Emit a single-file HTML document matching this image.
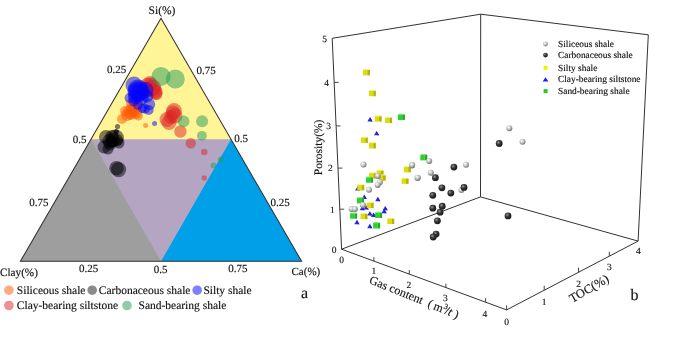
<!DOCTYPE html>
<html><head><meta charset="utf-8"><style>
html,body{margin:0;padding:0;background:#fff;}
svg{display:block;font-family:"Liberation Serif", serif;}
text{fill:#111;stroke:#111;stroke-width:0.15px;}
svg{will-change:transform;}
text{text-rendering:geometricPrecision;}
</style></head><body>
<svg width="685" height="339" viewBox="0 0 685 339">
<defs>
<radialGradient id="gl" cx="0.38" cy="0.35" r="0.7"><stop offset="0" stop-color="#ffffff"/><stop offset="0.45" stop-color="#c8c8c8"/><stop offset="1" stop-color="#6a6a6a"/></radialGradient>
<radialGradient id="gd" cx="0.38" cy="0.35" r="0.7"><stop offset="0" stop-color="#9a9a9a"/><stop offset="0.4" stop-color="#3a3a3a"/><stop offset="1" stop-color="#111111"/></radialGradient>
</defs>
<polygon points="161,18.3 20.4,261.3 301.6,261.3" fill="#B4A6C3"/>
<polygon points="161,18.3 90.96037037037038,139.35 231.03962962962964,139.35" fill="#FFF496"/>
<polygon points="90.96037037037038,139.35 20.4,261.3 161.0,261.3" fill="#9E9E9E"/>
<polygon points="231.03962962962964,139.35 161.0,261.3 301.6,261.3" fill="#00A0E9"/>
<circle cx="131" cy="103" r="5" fill="#FF5500" fill-opacity="0.5"/>
<circle cx="134" cy="110" r="6.5" fill="#FF5500" fill-opacity="0.5"/>
<circle cx="131" cy="114" r="6" fill="#FF5500" fill-opacity="0.5"/>
<circle cx="136" cy="107" r="5" fill="#FF5500" fill-opacity="0.5"/>
<circle cx="137" cy="104" r="6" fill="#FF5500" fill-opacity="0.5"/>
<circle cx="133" cy="108" r="7" fill="#FF5500" fill-opacity="0.5"/>
<circle cx="130" cy="112" r="7" fill="#FF5500" fill-opacity="0.5"/>
<circle cx="136" cy="113" r="6" fill="#FF5500" fill-opacity="0.5"/>
<circle cx="127" cy="115" r="6" fill="#FF5500" fill-opacity="0.5"/>
<circle cx="122" cy="119" r="5" fill="#FF5500" fill-opacity="0.5"/>
<circle cx="138.4" cy="116" r="4.5" fill="#FF5500" fill-opacity="0.5"/>
<circle cx="125" cy="111" r="5" fill="#FF5500" fill-opacity="0.5"/>
<circle cx="145.6" cy="125.5" r="2.5" fill="#FF5500" fill-opacity="0.5"/>
<circle cx="148" cy="85.5" r="8" fill="#DD2222" fill-opacity="0.5"/>
<circle cx="152" cy="88" r="8" fill="#DD2222" fill-opacity="0.5"/>
<circle cx="155" cy="91" r="7" fill="#DD2222" fill-opacity="0.5"/>
<circle cx="150" cy="83" r="7" fill="#DD2222" fill-opacity="0.5"/>
<circle cx="173" cy="113" r="7.5" fill="#DD2222" fill-opacity="0.5"/>
<circle cx="171" cy="117" r="7" fill="#DD2222" fill-opacity="0.5"/>
<circle cx="153.2" cy="87.6" r="8" fill="#DD2222" fill-opacity="0.5"/>
<circle cx="155.3" cy="92.2" r="7.5" fill="#DD2222" fill-opacity="0.5"/>
<circle cx="156.3" cy="94.3" r="6" fill="#DD2222" fill-opacity="0.5"/>
<circle cx="151" cy="84" r="6.5" fill="#DD2222" fill-opacity="0.5"/>
<circle cx="174" cy="110.8" r="7.8" fill="#DD2222" fill-opacity="0.5"/>
<circle cx="174.8" cy="115.7" r="7.7" fill="#DD2222" fill-opacity="0.5"/>
<circle cx="167" cy="119.5" r="7.5" fill="#DD2222" fill-opacity="0.5"/>
<circle cx="169" cy="122.5" r="7.5" fill="#DD2222" fill-opacity="0.5"/>
<circle cx="180.4" cy="131.5" r="6.2" fill="#DD2222" fill-opacity="0.5"/>
<circle cx="190.8" cy="143.3" r="5.2" fill="#DD2222" fill-opacity="0.5"/>
<circle cx="204.2" cy="152" r="3.3" fill="#DD2222" fill-opacity="0.5"/>
<circle cx="204.2" cy="177.9" r="2.7" fill="#DD2222" fill-opacity="0.5"/>
<circle cx="134" cy="85" r="8.5" fill="#0000FF" fill-opacity="0.5"/>
<circle cx="145.5" cy="90" r="8" fill="#0000FF" fill-opacity="0.5"/>
<circle cx="147" cy="96" r="6.5" fill="#0000FF" fill-opacity="0.5"/>
<circle cx="138" cy="90" r="10.5" fill="#0000FF" fill-opacity="0.5"/>
<circle cx="139" cy="91" r="10" fill="#0000FF" fill-opacity="0.5"/>
<circle cx="137.5" cy="92" r="10" fill="#0000FF" fill-opacity="0.5"/>
<circle cx="140" cy="93" r="9" fill="#0000FF" fill-opacity="0.5"/>
<circle cx="135" cy="97" r="7" fill="#0000FF" fill-opacity="0.5"/>
<circle cx="141" cy="97" r="8" fill="#0000FF" fill-opacity="0.5"/>
<circle cx="149.2" cy="104.3" r="6" fill="#0000FF" fill-opacity="0.5"/>
<circle cx="144.8" cy="108.8" r="5" fill="#0000FF" fill-opacity="0.5"/>
<circle cx="148.7" cy="110" r="5" fill="#0000FF" fill-opacity="0.5"/>
<circle cx="129.5" cy="98" r="5" fill="#0000FF" fill-opacity="0.5"/>
<circle cx="133.5" cy="101.5" r="5" fill="#0000FF" fill-opacity="0.5"/>
<circle cx="138" cy="105" r="5" fill="#0000FF" fill-opacity="0.5"/>
<circle cx="142.5" cy="108.5" r="4.5" fill="#0000FF" fill-opacity="0.5"/>
<circle cx="154.6" cy="123.6" r="2.5" fill="#0000FF" fill-opacity="0.5"/>
<circle cx="116.3" cy="131.8" r="2.5" fill="#0000FF" fill-opacity="0.5"/>
<circle cx="106" cy="137" r="7" fill="#000000" fill-opacity="0.5"/>
<circle cx="112" cy="137" r="7" fill="#000000" fill-opacity="0.5"/>
<circle cx="110" cy="144" r="6.5" fill="#000000" fill-opacity="0.5"/>
<circle cx="117" cy="140" r="6" fill="#000000" fill-opacity="0.5"/>
<circle cx="115.5" cy="138" r="8.5" fill="#000000" fill-opacity="0.5"/>
<circle cx="110" cy="141" r="7.5" fill="#000000" fill-opacity="0.5"/>
<circle cx="113" cy="140" r="7" fill="#000000" fill-opacity="0.5"/>
<circle cx="112" cy="142" r="6" fill="#000000" fill-opacity="0.5"/>
<circle cx="104" cy="147" r="6.5" fill="#000000" fill-opacity="0.5"/>
<circle cx="108" cy="149" r="5.5" fill="#000000" fill-opacity="0.5"/>
<circle cx="119" cy="143" r="5.5" fill="#000000" fill-opacity="0.5"/>
<circle cx="116.5" cy="168.2" r="7.3" fill="#000000" fill-opacity="0.5"/>
<circle cx="118.6" cy="169.6" r="7.6" fill="#000000" fill-opacity="0.5"/>
<circle cx="117.5" cy="126.5" r="2.6" fill="#000000" fill-opacity="0.5"/>
<circle cx="116.3" cy="131.8" r="2.5" fill="#000000" fill-opacity="0.5"/>
<circle cx="161" cy="76.4" r="9.5" fill="#229959" fill-opacity="0.5"/>
<circle cx="175.3" cy="79" r="9.5" fill="#229959" fill-opacity="0.5"/>
<circle cx="183.6" cy="121.4" r="5.9" fill="#229959" fill-opacity="0.5"/>
<circle cx="202.1" cy="121.2" r="6" fill="#229959" fill-opacity="0.5"/>
<circle cx="201.9" cy="135.8" r="4.9" fill="#229959" fill-opacity="0.5"/>
<circle cx="220.9" cy="159.5" r="3.1" fill="#229959" fill-opacity="0.5"/>
<circle cx="213.4" cy="165.4" r="2.9" fill="#229959" fill-opacity="0.5"/>
<polygon points="161,18.3 20.4,261.3 301.6,261.3" fill="none" stroke="#3a3232" stroke-width="1.05" stroke-linejoin="miter"/>
<text x="162" y="13.8" font-size="11.5" text-anchor="middle" >Si(%)</text>
<text x="116.5" y="72.7" font-size="11" text-anchor="middle" >0.25</text>
<text x="206" y="73.5" font-size="11" text-anchor="middle" >0.75</text>
<text x="79.5" y="142.5" font-size="11" text-anchor="middle" >0.5</text>
<text x="241" y="141.5" font-size="11" text-anchor="middle" >0.5</text>
<text x="38.8" y="205.7" font-size="11" text-anchor="middle" >0.75</text>
<text x="280" y="205.5" font-size="11" text-anchor="middle" >0.25</text>
<text x="88.5" y="272.3" font-size="11" text-anchor="middle" >0.25</text>
<text x="160.5" y="272.5" font-size="11" text-anchor="middle" >0.5</text>
<text x="237.8" y="272.3" font-size="11" text-anchor="middle" >0.75</text>
<text x="0" y="276" font-size="11.2" text-anchor="start" >Clay(%)</text>
<text x="291.5" y="275" font-size="11" text-anchor="start" >Ca(%)</text>
<circle cx="8.9" cy="290.2" r="4.8" fill="#FF5500" fill-opacity="0.5"/>
<text x="16.8" y="294" font-size="11.5" text-anchor="start" >Siliceous shale</text>
<circle cx="92.2" cy="290.2" r="4.8" fill="#000000" fill-opacity="0.46"/>
<text x="98.8" y="294" font-size="11.5" text-anchor="start" >Carbonaceous shale</text>
<circle cx="197.2" cy="290.2" r="4.8" fill="#0000FF" fill-opacity="0.5"/>
<text x="203.4" y="294" font-size="11.5" text-anchor="start" >Silty shale</text>
<circle cx="8.9" cy="305.5" r="4.8" fill="#DD2222" fill-opacity="0.5"/>
<text x="16.8" y="309.3" font-size="11.5" text-anchor="start" >Clay-bearing siltstone</text>
<circle cx="127" cy="305.5" r="4.8" fill="#229959" fill-opacity="0.5"/>
<text x="138.5" y="309.3" font-size="11.5" text-anchor="start" >Sand-bearing shale</text>
<text x="304.5" y="297.8" font-size="16" text-anchor="middle" >a</text>
<line x1="341.6" y1="249.2" x2="332.2" y2="38.3" stroke="#333" stroke-width="1.0"/>
<line x1="332.2" y1="38.3" x2="480.7" y2="14.2" stroke="#333" stroke-width="1.0"/>
<line x1="480.7" y1="14.2" x2="648.3" y2="34.8" stroke="#333" stroke-width="1.0"/>
<line x1="648.3" y1="34.8" x2="638.1" y2="241.1" stroke="#333" stroke-width="1.0"/>
<line x1="480.7" y1="14.2" x2="480.5" y2="196.9" stroke="#333" stroke-width="1.0"/>
<line x1="341.6" y1="249.2" x2="480.5" y2="196.9" stroke="#333" stroke-width="1.0"/>
<line x1="480.5" y1="196.9" x2="638.1" y2="241.1" stroke="#333" stroke-width="1.0"/>
<line x1="341.6" y1="249.2" x2="506.6" y2="309.9" stroke="#333" stroke-width="1.0"/>
<line x1="506.6" y1="309.9" x2="638.1" y2="241.1" stroke="#333" stroke-width="1.0"/>
<text x="324.7" y="41.599999999999994" font-size="9.5" text-anchor="middle" >5</text>
<line x1="334.1655761024182" y1="82.4" x2="338.56557610241816" y2="82.4" stroke="#333" stroke-width="0.9"/>
<text x="326.6655761024182" y="85.7" font-size="9.5" text-anchor="middle" >4</text>
<line x1="336.10440967283074" y1="125.9" x2="340.5044096728307" y2="125.9" stroke="#333" stroke-width="0.9"/>
<text x="328.60440967283074" y="129.20000000000002" font-size="9.5" text-anchor="middle" >3</text>
<line x1="337.98530109056423" y1="168.1" x2="342.3853010905642" y2="168.1" stroke="#333" stroke-width="0.9"/>
<text x="330.48530109056423" y="171.4" font-size="9.5" text-anchor="middle" >2</text>
<line x1="339.817164532954" y1="209.2" x2="344.217164532954" y2="209.2" stroke="#333" stroke-width="0.9"/>
<text x="332.317164532954" y="212.5" font-size="9.5" text-anchor="middle" >1</text>
<text x="334.1" y="252.5" font-size="9.5" text-anchor="middle" >0</text>
<text x="322.2" y="147.4" font-size="11.5" text-anchor="middle" transform="rotate(-90 322.2 147.4)">Porosity(%)</text>
<line x1="373.9" y1="261.0824848484848" x2="373.9" y2="257.0824848484848" stroke="#333" stroke-width="0.9"/>
<line x1="409.3" y1="274.10539393939393" x2="409.3" y2="270.10539393939393" stroke="#333" stroke-width="0.9"/>
<line x1="445.9" y1="287.56975757575754" x2="445.9" y2="283.56975757575754" stroke="#333" stroke-width="0.9"/>
<line x1="485.6" y1="302.1745454545454" x2="485.6" y2="298.1745454545454" stroke="#333" stroke-width="0.9"/>
<text x="341.6" y="262.90000000000003" font-size="9.5" text-anchor="middle" >0</text>
<text x="373.9" y="274.3" font-size="9.5" text-anchor="middle" >1</text>
<text x="408.9" y="288.40000000000003" font-size="9.5" text-anchor="middle" >2</text>
<text x="445.4" y="301.40000000000003" font-size="9.5" text-anchor="middle" >3</text>
<text x="484.9" y="317.2" font-size="9.5" text-anchor="middle" >4</text>
<line x1="506.6" y1="309.9" x2="506.6" y2="305.4" stroke="#333" stroke-width="0.9"/>
<line x1="544.2" y1="290.22790874524713" x2="544.2" y2="285.72790874524713" stroke="#333" stroke-width="0.9"/>
<line x1="578.5" y1="272.28235741444865" x2="578.5" y2="267.78235741444865" stroke="#333" stroke-width="0.9"/>
<line x1="609.3" y1="256.1679847908745" x2="609.3" y2="251.66798479087453" stroke="#333" stroke-width="0.9"/>
<text x="506.6" y="325.40000000000003" font-size="9.5" text-anchor="middle" >0</text>
<text x="544.2" y="304.6" font-size="9.5" text-anchor="middle" >1</text>
<text x="578.5" y="286.6" font-size="9.5" text-anchor="middle" >2</text>
<text x="609.3" y="269.8" font-size="9.5" text-anchor="middle" >3</text>
<text x="638.3" y="253.60000000000002" font-size="9.5" text-anchor="middle" >4</text>
<text x="591" y="292" font-size="12.5" text-anchor="middle" transform="rotate(-30 591 292)">TOC(%)</text>
<text font-size="12" transform="translate(368.5,283) rotate(22)">Gas content<tspan dx="6">(</tspan><tspan dx="2.2">m</tspan><tspan dx="0.3" dy="-4.5" font-size="8">3</tspan><tspan dx="-1.2" dy="4.5">/</tspan><tspan font-style="italic">t</tspan><tspan dx="3">)</tspan></text>
<text x="634.5" y="300" font-size="16" text-anchor="middle" >b</text>
<polygon points="370,117.1 367.4,121.5 372.6,121.5" fill="#2a2ae0"/>
<polygon points="370,117.1 370.4,121.5 372.6,121.5" fill="#1818b0" fill-opacity="0.6"/>
<polygon points="376.6,130.9 374.0,135.3 379.20000000000005,135.3" fill="#2a2ae0"/>
<polygon points="376.6,130.9 377.0,135.3 379.20000000000005,135.3" fill="#1818b0" fill-opacity="0.6"/>
<polygon points="357.7,186.2 355.09999999999997,190.6 360.3,190.6" fill="#2a2ae0"/>
<polygon points="357.7,186.2 358.09999999999997,190.6 360.3,190.6" fill="#1818b0" fill-opacity="0.6"/>
<polygon points="364.2,194.6 361.59999999999997,199.0 366.8,199.0" fill="#2a2ae0"/>
<polygon points="364.2,194.6 364.59999999999997,199.0 366.8,199.0" fill="#1818b0" fill-opacity="0.6"/>
<polygon points="377.8,196.79999999999998 375.2,201.2 380.40000000000003,201.2" fill="#2a2ae0"/>
<polygon points="377.8,196.79999999999998 378.2,201.2 380.40000000000003,201.2" fill="#1818b0" fill-opacity="0.6"/>
<polygon points="366.2,205.2 363.59999999999997,209.6 368.8,209.6" fill="#2a2ae0"/>
<polygon points="366.2,205.2 366.59999999999997,209.6 368.8,209.6" fill="#1818b0" fill-opacity="0.6"/>
<polygon points="362.2,205.9 359.59999999999997,210.3 364.8,210.3" fill="#2a2ae0"/>
<polygon points="362.2,205.9 362.59999999999997,210.3 364.8,210.3" fill="#1818b0" fill-opacity="0.6"/>
<polygon points="385.2,205.9 382.59999999999997,210.3 387.8,210.3" fill="#2a2ae0"/>
<polygon points="385.2,205.9 385.59999999999997,210.3 387.8,210.3" fill="#1818b0" fill-opacity="0.6"/>
<polygon points="384.1,208.79999999999998 381.5,213.2 386.70000000000005,213.2" fill="#2a2ae0"/>
<polygon points="384.1,208.79999999999998 384.5,213.2 386.70000000000005,213.2" fill="#1818b0" fill-opacity="0.6"/>
<polygon points="369.8,211.2 367.2,215.6 372.40000000000003,215.6" fill="#2a2ae0"/>
<polygon points="369.8,211.2 370.2,215.6 372.40000000000003,215.6" fill="#1818b0" fill-opacity="0.6"/>
<polygon points="373.5,212.5 370.9,216.9 376.1,216.9" fill="#2a2ae0"/>
<polygon points="373.5,212.5 373.9,216.9 376.1,216.9" fill="#1818b0" fill-opacity="0.6"/>
<polygon points="356.9,219.79999999999998 354.29999999999995,224.2 359.5,224.2" fill="#2a2ae0"/>
<polygon points="356.9,219.79999999999998 357.29999999999995,224.2 359.5,224.2" fill="#1818b0" fill-opacity="0.6"/>
<polygon points="369.8,223.79999999999998 367.2,228.2 372.40000000000003,228.2" fill="#2a2ae0"/>
<polygon points="369.8,223.79999999999998 370.2,228.2 372.40000000000003,228.2" fill="#1818b0" fill-opacity="0.6"/>
<rect x="363.0" y="69.85" width="4.34" height="5.5" fill="#dcdc0a"/>
<rect x="367.34" y="69.85" width="2.66" height="5.5" fill="#b4b400"/>
<rect x="363.5" y="69.05" width="6" height="1" fill="#f4f47a"/>
<rect x="368.9" y="90.74999999999999" width="4.34" height="5.5" fill="#dcdc0a"/>
<rect x="373.23999999999995" y="90.74999999999999" width="2.66" height="5.5" fill="#b4b400"/>
<rect x="369.4" y="89.94999999999999" width="6" height="1" fill="#f4f47a"/>
<rect x="374.7" y="116.14999999999999" width="4.34" height="5.5" fill="#dcdc0a"/>
<rect x="379.03999999999996" y="116.14999999999999" width="2.66" height="5.5" fill="#b4b400"/>
<rect x="375.2" y="115.35" width="6" height="1" fill="#f4f47a"/>
<rect x="385.1" y="117.55" width="4.34" height="5.5" fill="#dcdc0a"/>
<rect x="389.44" y="117.55" width="2.66" height="5.5" fill="#b4b400"/>
<rect x="385.6" y="116.75" width="6" height="1" fill="#f4f47a"/>
<rect x="360.9" y="137.45000000000002" width="4.34" height="5.5" fill="#dcdc0a"/>
<rect x="365.23999999999995" y="137.45000000000002" width="2.66" height="5.5" fill="#b4b400"/>
<rect x="361.4" y="136.65" width="6" height="1" fill="#f4f47a"/>
<rect x="368.9" y="142.95000000000002" width="4.34" height="5.5" fill="#dcdc0a"/>
<rect x="373.23999999999995" y="142.95000000000002" width="2.66" height="5.5" fill="#b4b400"/>
<rect x="369.4" y="142.15" width="6" height="1" fill="#f4f47a"/>
<rect x="403.9" y="166.85" width="4.34" height="5.5" fill="#dcdc0a"/>
<rect x="408.23999999999995" y="166.85" width="2.66" height="5.5" fill="#b4b400"/>
<rect x="404.4" y="166.04999999999998" width="6" height="1" fill="#f4f47a"/>
<rect x="401.6" y="178.35" width="4.34" height="5.5" fill="#dcdc0a"/>
<rect x="405.94" y="178.35" width="2.66" height="5.5" fill="#b4b400"/>
<rect x="402.1" y="177.54999999999998" width="6" height="1" fill="#f4f47a"/>
<rect x="369.0" y="173.05" width="4.34" height="5.5" fill="#dcdc0a"/>
<rect x="373.34" y="173.05" width="2.66" height="5.5" fill="#b4b400"/>
<rect x="369.5" y="172.25" width="6" height="1" fill="#f4f47a"/>
<rect x="376.6" y="170.35" width="4.34" height="5.5" fill="#dcdc0a"/>
<rect x="380.94" y="170.35" width="2.66" height="5.5" fill="#b4b400"/>
<rect x="377.1" y="169.54999999999998" width="6" height="1" fill="#f4f47a"/>
<rect x="378.7" y="175.25" width="4.34" height="5.5" fill="#dcdc0a"/>
<rect x="383.03999999999996" y="175.25" width="2.66" height="5.5" fill="#b4b400"/>
<rect x="379.2" y="174.45" width="6" height="1" fill="#f4f47a"/>
<rect x="357.3" y="184.95000000000002" width="4.34" height="5.5" fill="#dcdc0a"/>
<rect x="361.64" y="184.95000000000002" width="2.66" height="5.5" fill="#b4b400"/>
<rect x="357.8" y="184.15" width="6" height="1" fill="#f4f47a"/>
<rect x="366.7" y="202.65" width="4.34" height="5.5" fill="#dcdc0a"/>
<rect x="371.03999999999996" y="202.65" width="2.66" height="5.5" fill="#b4b400"/>
<rect x="367.2" y="201.85" width="6" height="1" fill="#f4f47a"/>
<rect x="360.5" y="213.65" width="4.34" height="5.5" fill="#dcdc0a"/>
<rect x="364.84" y="213.65" width="2.66" height="5.5" fill="#b4b400"/>
<rect x="361.0" y="212.85" width="6" height="1" fill="#f4f47a"/>
<rect x="387.3" y="218.55" width="4.34" height="5.5" fill="#dcdc0a"/>
<rect x="391.64" y="218.55" width="2.66" height="5.5" fill="#b4b400"/>
<rect x="387.8" y="217.75" width="6" height="1" fill="#f4f47a"/>
<rect x="397.9" y="114.44999999999999" width="4.34" height="5.5" fill="#2ed22e"/>
<rect x="402.23999999999995" y="114.44999999999999" width="2.66" height="5.5" fill="#1fae1f"/>
<rect x="398.4" y="113.64999999999999" width="6" height="1" fill="#7ae87a"/>
<rect x="420.3" y="154.85" width="4.34" height="5.5" fill="#2ed22e"/>
<rect x="424.64" y="154.85" width="2.66" height="5.5" fill="#1fae1f"/>
<rect x="420.8" y="154.04999999999998" width="6" height="1" fill="#7ae87a"/>
<rect x="366.0" y="177.25" width="4.34" height="5.5" fill="#2ed22e"/>
<rect x="370.34" y="177.25" width="2.66" height="5.5" fill="#1fae1f"/>
<rect x="366.5" y="176.45" width="6" height="1" fill="#7ae87a"/>
<rect x="357.0" y="197.95000000000002" width="4.34" height="5.5" fill="#2ed22e"/>
<rect x="361.34" y="197.95000000000002" width="2.66" height="5.5" fill="#1fae1f"/>
<rect x="357.5" y="197.15" width="6" height="1" fill="#7ae87a"/>
<rect x="350.1" y="213.25" width="4.34" height="5.5" fill="#2ed22e"/>
<rect x="354.44" y="213.25" width="2.66" height="5.5" fill="#1fae1f"/>
<rect x="350.6" y="212.45" width="6" height="1" fill="#7ae87a"/>
<rect x="375.1" y="212.55" width="4.34" height="5.5" fill="#2ed22e"/>
<rect x="379.44" y="212.55" width="2.66" height="5.5" fill="#1fae1f"/>
<rect x="375.6" y="211.75" width="6" height="1" fill="#7ae87a"/>
<rect x="373.1" y="222.95000000000002" width="4.34" height="5.5" fill="#2ed22e"/>
<rect x="377.44" y="222.95000000000002" width="2.66" height="5.5" fill="#1fae1f"/>
<rect x="373.6" y="222.15" width="6" height="1" fill="#7ae87a"/>
<circle cx="363.5" cy="164.6" r="3.0" fill="url(#gl)"/>
<circle cx="411.9" cy="165.4" r="3.0" fill="url(#gl)"/>
<circle cx="417.5" cy="178" r="3.0" fill="url(#gl)"/>
<circle cx="377.8" cy="175.9" r="3.0" fill="url(#gl)"/>
<circle cx="379.8" cy="182.3" r="3.0" fill="url(#gl)"/>
<circle cx="377.6" cy="184.9" r="3.0" fill="url(#gl)"/>
<circle cx="369" cy="189.8" r="3.0" fill="url(#gl)"/>
<circle cx="362.9" cy="205" r="3.0" fill="url(#gl)"/>
<circle cx="351.6" cy="209" r="3.0" fill="url(#gl)"/>
<circle cx="354.9" cy="209" r="3.0" fill="url(#gl)"/>
<circle cx="429.2" cy="160.9" r="3.0" fill="url(#gl)"/>
<circle cx="412.2" cy="165.1" r="3.0" fill="url(#gl)"/>
<circle cx="466" cy="164.8" r="3.0" fill="url(#gl)"/>
<circle cx="430.8" cy="172.7" r="3.0" fill="url(#gl)"/>
<circle cx="417.7" cy="177.7" r="3.0" fill="url(#gl)"/>
<circle cx="461.4" cy="190.1" r="3.0" fill="url(#gl)"/>
<circle cx="509.3" cy="128.2" r="3.0" fill="url(#gl)"/>
<circle cx="522.5" cy="141.8" r="3.0" fill="url(#gl)"/>
<circle cx="453.9" cy="167.1" r="3.4" fill="url(#gd)"/>
<circle cx="435.4" cy="177.7" r="3.4" fill="url(#gd)"/>
<circle cx="441.9" cy="187.8" r="3.4" fill="url(#gd)"/>
<circle cx="464" cy="187.4" r="3.4" fill="url(#gd)"/>
<circle cx="450.8" cy="193.1" r="3.4" fill="url(#gd)"/>
<circle cx="432.8" cy="195.3" r="3.4" fill="url(#gd)"/>
<circle cx="432.8" cy="208.2" r="3.4" fill="url(#gd)"/>
<circle cx="442.2" cy="206.2" r="3.4" fill="url(#gd)"/>
<circle cx="440.1" cy="212.2" r="3.4" fill="url(#gd)"/>
<circle cx="437.4" cy="220.8" r="3.4" fill="url(#gd)"/>
<circle cx="436.1" cy="234.1" r="3.4" fill="url(#gd)"/>
<circle cx="433.2" cy="237" r="3.4" fill="url(#gd)"/>
<circle cx="499.2" cy="143.5" r="3.4" fill="url(#gd)"/>
<circle cx="508" cy="215.9" r="3.4" fill="url(#gd)"/>
<circle cx="545.5" cy="44" r="2.4" fill="url(#gl)"/>
<circle cx="545.5" cy="55.1" r="2.4" fill="url(#gd)"/>
<rect x="543.6" y="65.7" width="4" height="4" fill="#f0f000"/>
<polygon points="545.5,77.2 542.7,81.4 548.4,81.4" fill="#2020ee"/>
<rect x="543.6" y="89.1" width="4" height="4" fill="#22cc22"/>
<text x="558" y="47.2" font-size="9.4" text-anchor="start" >Siliceous shale</text>
<text x="558" y="58.300000000000004" font-size="9.4" text-anchor="start" >Carbonaceous shale</text>
<text x="558" y="70.8" font-size="9.4" text-anchor="start" >Silty shale</text>
<text x="558" y="82.3" font-size="9.4" text-anchor="start" >Clay-bearing siltstone</text>
<text x="558" y="94.2" font-size="9.4" text-anchor="start" >Sand-bearing shale</text>
</svg></body></html>
